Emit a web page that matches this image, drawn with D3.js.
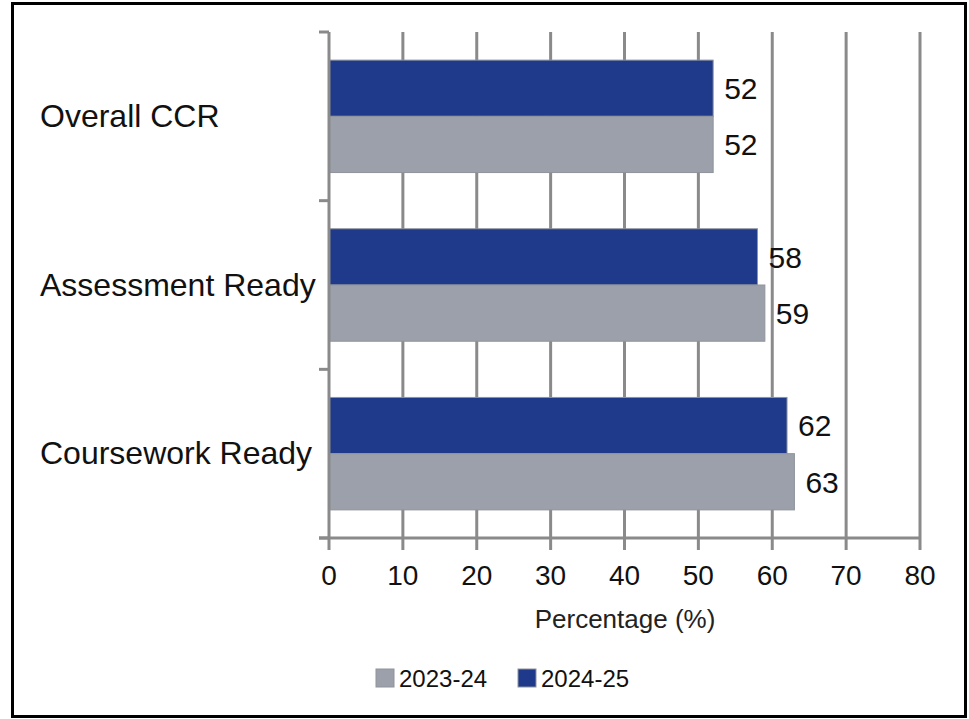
<!DOCTYPE html>
<html>
<head>
<meta charset="utf-8">
<script src="https://cdn.jsdelivr.net/npm/d3@7"></script>
<style>
  html, body { margin: 0; padding: 0; background: #fff; }
  svg { display: block; }
</style>
</head>
<body>
<div id="chart"></div>
<script>
// chart data
const categories = ["Overall CCR", "Assessment Ready", "Coursework Ready"];
const seriesNames = ["2024-25", "2023-24"];
const values2024 = [52, 58, 62];
const values2023 = [52, 59, 63];
const xTicks = [0, 10, 20, 30, 40, 50, 60, 70, 80];
const legendOrder = ["2023-24", "2024-25"];

const width = 969, height = 719;
const margin = { top: 32, left: 329, right: 49, bottom: 181 };

const colors = { "2024-25": "#1f3a8b", "2023-24": "#9ba0aa" };
const gridColor = "#8a8a8a";
const font = "Liberation Sans, Arial, sans-serif";

const svg = d3.select("#chart").append("svg")
  .attr("width", width)
  .attr("height", height);

// outer frame
svg.append("rect")
  .attr("x", 12.5).attr("y", 3.5)
  .attr("width", 953).attr("height", 713)
  .attr("fill", "white")
  .attr("stroke", "#000")
  .attr("stroke-width", 3);

const x = d3.scaleLinear()
  .domain([0, 80])
  .range([margin.left, width - margin.right]);

const y = d3.scaleBand()
  .domain(categories)
  .range([margin.top, height - margin.bottom]);

const inner = d3.scaleBand()
  .domain(seriesNames)
  .range([0, y.bandwidth()])
  .paddingOuter(0.5);

const yBottom = height - margin.bottom;

// vertical gridlines (extend down as tick marks)
svg.append("g")
  .selectAll("line")
  .data(xTicks.slice(1))
  .join("line")
  .attr("x1", d => x(d)).attr("x2", d => x(d))
  .attr("y1", margin.top).attr("y2", yBottom + 12)
  .attr("stroke", gridColor)
  .attr("stroke-width", 3);

// bars
const rows = categories.map((c, i) => ({ cat: c, "2024-25": values2024[i], "2023-24": values2023[i] }));

const groups = svg.append("g")
  .selectAll("g")
  .data(rows)
  .join("g")
  .attr("transform", d => `translate(0,${y(d.cat)})`);

groups.selectAll("rect")
  .data(d => seriesNames.map(s => ({ s, v: d[s] })))
  .join("rect")
  .attr("x", x(0))
  .attr("y", d => inner(d.s))
  .attr("width", d => x(d.v) - x(0))
  .attr("height", inner.bandwidth())
  .attr("fill", d => colors[d.s])
  .attr("stroke", "#8f939b")
  .attr("stroke-width", 1);

groups.selectAll("text.val")
  .data(d => seriesNames.map(s => ({ s, v: d[s] })))
  .join("text")
  .attr("class", "val")
  .attr("x", d => x(d.v) + 11)
  .attr("y", d => inner(d.s) + inner.bandwidth() / 2)
  .attr("dy", "0.36em")
  .attr("font-family", font)
  .attr("font-size", 30)
  .attr("fill", "#111")
  .text(d => d.v);

// left axis line + ticks at band edges
const yEdges = categories.map(c => y(c)).concat([yBottom]);
svg.append("line")
  .attr("x1", x(0)).attr("x2", x(0))
  .attr("y1", margin.top).attr("y2", yBottom + 12)
  .attr("stroke", gridColor).attr("stroke-width", 3);
svg.append("g")
  .selectAll("line")
  .data(yEdges)
  .join("line")
  .attr("x1", x(0) - 10).attr("x2", x(0))
  .attr("y1", d => d).attr("y2", d => d)
  .attr("stroke", gridColor).attr("stroke-width", 3);

// bottom axis line
svg.append("line")
  .attr("x1", x(0) - 10).attr("x2", x(80))
  .attr("y1", yBottom).attr("y2", yBottom)
  .attr("stroke", gridColor).attr("stroke-width", 3);

// category labels
svg.append("g")
  .selectAll("text")
  .data(categories)
  .join("text")
  .attr("x", 40)
  .attr("y", d => y(d) + y.bandwidth() / 2 - 1)
  .attr("dy", "0.36em")
  .attr("font-family", font)
  .attr("font-size", 32)
  .attr("fill", "#111")
  .text(d => d);

// x tick labels
svg.append("g")
  .selectAll("text")
  .data(xTicks)
  .join("text")
  .attr("x", d => x(d))
  .attr("y", yBottom + 47)
  .attr("text-anchor", "middle")
  .attr("font-family", font)
  .attr("font-size", 28)
  .attr("fill", "#111")
  .text(d => d);

// axis title
svg.append("text")
  .attr("x", 625)
  .attr("y", 628)
  .attr("text-anchor", "middle")
  .attr("font-family", font)
  .attr("font-size", 26)
  .attr("fill", "#222")
  .text("Percentage (%)");

// legend
const legendX = [376, 518];
const legend = svg.append("g")
  .selectAll("g")
  .data(legendOrder)
  .join("g")
  .attr("transform", (d, i) => `translate(${legendX[i]},669)`);
legend.append("rect")
  .attr("width", 18).attr("height", 18)
  .attr("fill", d => colors[d])
  .attr("stroke", "#8f939b");
legend.append("text")
  .attr("x", 23).attr("y", 9)
  .attr("dy", "0.36em")
  .attr("font-family", font)
  .attr("font-size", 24)
  .attr("fill", "#111")
  .text(d => d);
</script>
</body>
</html>
